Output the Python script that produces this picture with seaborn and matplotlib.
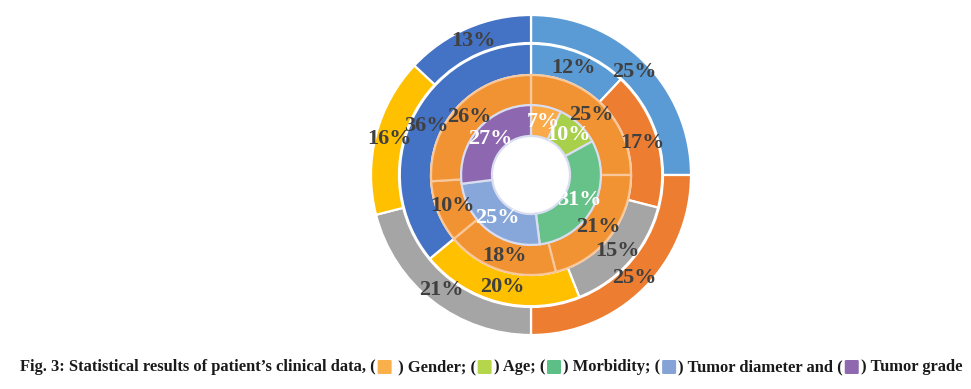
import matplotlib
matplotlib.use("Agg")
import matplotlib.pyplot as plt
import seaborn as sns
from matplotlib.patches import FancyBboxPatch

# data (each ring sums to 100 %)
categories = ['Gender', 'Age', 'Morbidity', 'Tumor diameter', 'Tumor grade']
inner_values = [7, 10, 31, 25, 27]
ring3_values = [25, 21, 18, 10, 26]
ring2_values = [12, 17, 15, 20, 36]
outer_values = [25, 25, 21, 16, 13]

office_colors = ['#5B9BD5', '#ED7D31', '#A5A5A5', '#FFC000', '#4472C4']
inner_colors = ['#FAAA48', '#A9D04A', '#66C289', '#87A7DA', '#8D67AF']
ring3_color = '#F29333'

sns.set_theme(style='white')
plt.rcParams['font.family'] = ['Liberation Serif', 'DejaVu Serif']

W, H = 971, 389
fig = plt.figure(figsize=(W / 100, H / 100), dpi=100)
cx, cy, R = 531, 175, 160
ax = fig.add_axes([(cx - R) / W, (H - cy - R) / H, 2 * R / W, 2 * R / H])

# (values, colors, radius, width, edge colour, label colour)
rings = [
    (outer_values, office_colors, 1.0, 0.175, 'white', '#404040'),
    (ring2_values, office_colors, 0.82, 0.195, 'white', '#404040'),
    (ring3_values, [ring3_color] * 5, 0.625, 0.19, '#F8C79A', '#404040'),
    (inner_values, inner_colors, 0.437, 0.193, '#D9DDF0', 'white'),
]
for vals, cols, r, w, ec, tc in rings:
    ax.pie(vals, colors=cols, radius=r, startangle=90, counterclock=False,
           autopct='%1.0f%%', pctdistance=(r - w / 2) / r,
           wedgeprops=dict(width=w, edgecolor=ec, linewidth=1.6),
           textprops=dict(color=tc, fontsize=16, fontweight='bold'))
ax.set_xlim(-1, 1)
ax.set_ylim(-1, 1)
ax.set_aspect('equal')
ax.axis('off')

# caption with coloured keys
pieces = ['Fig. 3: Statistical results of patient\u2019s clinical data, (', ' ) Gender; (',
          ') Age; (', ') Morbidity; (', ') Tumor diameter and (', ') Tumor grade']
key_colors = ['#F9B04A', '#B5D64A', '#5CBF85', '#85A3D6', '#8E69B0']
x0, x1, ty = 20, 966, H - 367
sq = 14
fs = 11.5
renderer = fig.canvas.get_renderer()


def text_widths(size):
    ws = []
    for p in pieces:
        t = fig.text(0, 0, p, fontsize=size, fontweight='bold')
        ws.append(t.get_window_extent(renderer).width)
        t.remove()
    return ws


ws = text_widths(fs)
total = sum(ws) + len(key_colors) * (sq + 4)
fs = fs * (x1 - x0 - len(key_colors) * (sq + 4)) / (total - len(key_colors) * (sq + 4))
ws = text_widths(fs)
x = x0
for i, p in enumerate(pieces):
    fig.text(x / W, ty / H, p, fontsize=fs, fontweight='bold', color='#1a1a1a',
             va='center', ha='left')
    x += ws[i]
    if i < len(key_colors):
        fig.patches.append(FancyBboxPatch(((x + 2) / W, (ty - sq / 2) / H), sq / W, sq / H,
                                          boxstyle='round,pad=0,rounding_size=0.002',
                                          transform=fig.transFigure, facecolor=key_colors[i],
                                          edgecolor='none'))
        x += sq + 4

fig.savefig('out.png', dpi=100, facecolor='white')
